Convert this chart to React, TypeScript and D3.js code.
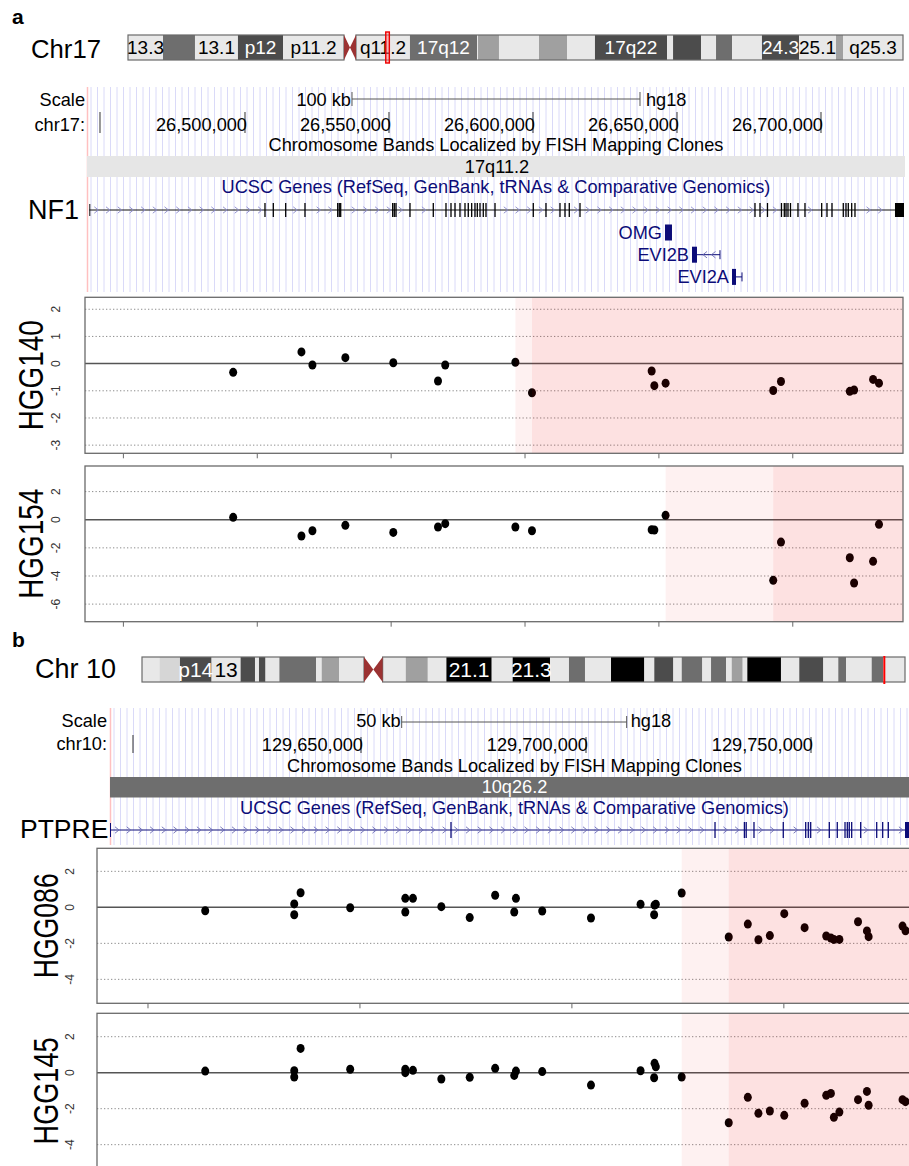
import React from "react";
import * as d3 from "d3";

const FONT = '"Liberation Sans", Arial, Helvetica, sans-serif';
const NAVY = "#0c0c78";
const GUIDE = "#dadaf8";
const BF = 18.2; // browser text size

// ---------------- Ideogram data (Mb) ----------------
const chr17Length = 78.8;
const chr17BandName = ["13.3", "", "13.1", "p12", "p11.2", "q11.2", "17q12", "", "", "", "", "", "17q22", "", "", "", "", "", "24.3", "25.1", "", "q25.3"];
const chr17BandStart = [0, 3.56, 6.81, 11.18, 15.76, 23.18, 28.67, 35.49, 35.59, 37.72, 41.79, 44.64, 47.48, 54.81, 55.42, 58.26, 59.79, 61.42, 64.46, 68.23, 71.99, 72.7];
const chr17BandEnd = [3.56, 6.81, 11.18, 15.76, 21.96, 28.67, 35.49, 35.59, 37.72, 41.79, 44.64, 47.48, 54.81, 55.42, 58.26, 59.79, 61.42, 64.46, 68.23, 71.99, 72.7, 78.8];
const chr17BandStain = ["gneg", "gpos50", "gneg", "gpos75", "gneg", "gneg", "gpos50", "gneg", "gpos25", "gneg", "gpos25", "gneg", "gpos75", "gneg", "gpos75", "gneg", "gpos50", "gneg", "gpos75", "gneg", "gpos25", "gneg"];
const chr17Centromere = [21.96, 23.18];
const chr17Mark = 26.39;

const chr10Length = 135.4;
const chr10BandName = ["", "", "p14", "13", "", "", "", "", "", "", "", "", "", "", "", "21.1", "", "21.3", "", "", "", "", "", "", "", "", "", "", "", "", "", "", "", "", "", "", "", "", ""];
const chr10BandStart = [0, 3.09, 6.74, 12.35, 17.5, 20.05, 20.76, 21.92, 24.38, 30.88, 31.89, 34.96, 42.7, 46.81, 50.72, 54.02, 62.06, 65.78, 72.4, 75.77, 78.61, 83.23, 89.14, 90.91, 94.29, 95.78, 99.43, 100.98, 103.64, 104.65, 106.6, 107.42, 113.39, 116.64, 120.9, 123.56, 124.93, 129.49, 131.55];
const chr10BandEnd = [3.09, 6.74, 12.35, 17.5, 20.05, 20.76, 21.92, 24.38, 30.88, 31.89, 34.96, 39.4, 46.81, 50.72, 54.02, 62.06, 65.78, 72.4, 75.77, 78.61, 83.23, 89.14, 90.91, 94.29, 95.78, 99.43, 100.98, 103.64, 104.65, 106.6, 107.42, 113.39, 116.64, 120.9, 123.56, 124.93, 129.49, 131.55, 135.4];
const chr10BandStain = ["gneg", "gpos10", "gpos75", "gneg", "gpos75", "gneg", "gpos75", "gneg", "gpos50", "gneg", "gpos25", "gneg", "gneg", "gpos25", "gneg", "gpos100", "gneg", "gpos100", "gneg", "gpos50", "gneg", "gpos100", "gneg", "gpos75", "gneg", "gpos50", "gneg", "gpos50", "gneg", "gpos25", "gneg", "gpos100", "gneg", "gpos75", "gneg", "gpos50", "gneg", "gpos50", "gneg"];
const chr10Centromere = [39.4, 42.7];
const chr10Mark = 131.73;

const STAIN: Record<string, string> = {
  gneg: "#e8e8e8",
  gpos10: "#d6d6d6",
  gpos25: "#a0a0a0",
  gpos50: "#6e6e6e",
  gpos75: "#4c4c4c",
  gpos100: "#000000",
};
const ACEN = "#9b3232";

// ---------------- Browser a (kb, chr17) ----------------
const browserADomain = [26445.14, 26729.17];
const browserATicks = [26500, 26550, 26600, 26650, 26700];
const browserATickLabels = ["26,500,000", "26,550,000", "26,600,000", "26,650,000", "26,700,000"];
const browserAStartTick = 26449.65;
const scaleBarA = [26537.15, 100];
const nf1Start = 26445.94;
const nf1Exons = [26506.94, 26509.83, 26514.13, 26520.83, 26532.19, 26532.74, 26533.23, 26551.28, 26551.84, 26552.43, 26557.29, 26565.38, 26569.79, 26571.53, 26572.92, 26574.65, 26576.39, 26577.53, 26578.71, 26579.86, 26580.66, 26581.6, 26582.74, 26583.68, 26586.81, 26600.1, 26604.51, 26609.37, 26611.11, 26612.6, 26616.32, 26677.08, 26678.82, 26681.42, 26686.28, 26687.26, 26687.85, 26688.54, 26689.41, 26692.01, 26694.44, 26700.24, 26702.08, 26703.82, 26707.74, 26708.68, 26709.48, 26710.66, 26711.8];
const nf1LastExon = [26725.69, 26728.82];
const smallGeneNames = ["OMG", "EVI2B", "EVI2A"];
const smallGeneCdsStart = [26645.83, 26655.21, 26669.1];
const smallGeneCdsEnd = [26648.26, 26656.94, 26670.49];
const smallGeneEnd = [26648.26, 26664.93, 26672.57];

// ---------------- Browser b (kb, chr10) ----------------
const browserBDomain = [129594.22, 129774.0];
const browserBTicks = [129650, 129700, 129750];
const browserBTickLabels = ["129,650,000", "129,700,000", "129,750,000"];
const browserBStartTick = 129599.33;
const scaleBarB = [129659.04, 50];
const ptpreStart = 129594.22;
const ptpreExons = [129670.0, 129728.67, 129735.2, 129735.6, 129737.33, 129743.84, 129748.82, 129749.4, 129749.93, 129754.07, 129755.84, 129757.56, 129758.07, 129758.51, 129759.04, 129761.04, 129764.6, 129765.93, 129767.18];
const ptpreLastExon = [129770.89, 129773.5];

// ---------------- Copy-number panels a ----------------
const probesA = [26491.0, 26516.5, 26520.6, 26532.9, 26550.8, 26567.5, 26570.2, 26596.4, 26602.6, 26647.3, 26648.3, 26652.5, 26692.7, 26695.6, 26721.3, 26722.9, 26730.0, 26732.2];
const hgg140 = [-0.32, 0.43, -0.05, 0.22, 0.03, -0.64, -0.05, 0.05, -1.07, -0.27, -0.81, -0.72, -0.99, -0.66, -1.02, -0.97, -0.58, -0.72];
const hgg154 = [0.17, -1.16, -0.78, -0.4, -0.9, -0.52, -0.28, -0.52, -0.78, -0.71, -0.73, 0.31, -4.31, -1.59, -2.7, -4.5, -2.96, -0.33];
const panelAXDomain = [26435.66, 26741.17];
const panelAXTicks = [26450, 26500, 26550, 26600, 26650, 26700];
const hgg140YDomain = [-3.3, 2.44];
const hgg140YTicks = [-3, -2, -1, 0, 1, 2];
const hgg140Breaks = [26596.4, 26602.6];
const hgg154YDomain = [-7.25, 3.82];
const hgg154YTicks = [-6, -4, -2, 0, 2];
const hgg154Breaks = [26652.5, 26692.7];

// ---------------- Copy-number panels b ----------------
const probesB = [129613.5, 129634.5, 129634.5, 129636.0, 129647.7, 129660.7, 129660.7, 129662.5, 129669.2, 129675.9, 129681.9, 129686.8, 129686.4, 129693.0, 129704.5, 129716.2, 129719.5, 129719.8, 129719.4, 129725.9, 129737.0, 129741.5, 129744.0, 129746.7, 129750.1, 129754.9, 129760.0, 129761.1, 129761.8, 129763.1, 129767.5, 129769.6, 129770.0, 129778.0, 129778.7];
const hgg086 = [-0.19, 0.19, -0.41, 0.81, -0.02, 0.5, -0.26, 0.5, 0.04, -0.57, 0.67, 0.5, -0.26, -0.2, -0.59, 0.17, 0.12, 0.17, -0.41, 0.8, -1.65, -0.93, -1.8, -1.57, -0.35, -1.13, -1.59, -1.7, -1.78, -1.78, -0.8, -1.31, -1.63, -1.04, -1.3];
const hgg145 = [0.09, 0.11, -0.24, 1.35, 0.19, 0.19, 0.0, 0.13, -0.35, -0.26, 0.24, 0.09, -0.15, 0.06, -0.69, 0.11, 0.52, 0.33, -0.28, -0.24, -2.78, -1.37, -2.26, -2.13, -2.37, -1.7, -1.26, -1.15, -2.48, -2.19, -1.5, -1.04, -1.81, -1.5, -1.61];
const panelBXDomain = [129587.97, 129780.94];
const panelBXTicks = [129600, 129650, 129700, 129750];
const hgg086YDomain = [-5.33, 3.28];
const hgg145YDomain = [-5.33, 3.3];
const panelBYTicks = [-4, -2, 0, 2];
const panelBBreaks = [129725.9, 129737.0];

// ---------------- Components ----------------
function Ideogram(props: any) {
  const { x0, x1, y0, y1, length, names, starts, ends, stains, cen, mark, fontSize, markBox } = props;
  const x = d3.scaleLinear().domain([0, length]).range([x0, x1]);
  const ym = (y0 + y1) / 2;
  const cm = (x(cen[0]) + x(cen[1])) / 2;
  return (
    <g>
      {starts.map((s: number, i: number) => (
        <rect key={i} x={x(s)} y={y0} width={x(ends[i]) - x(s)} height={y1 - y0} fill={STAIN[stains[i]]} />
      ))}
      <rect x={x(0)} y={y0} width={x(cen[0]) - x(0)} height={y1 - y0} fill="none" stroke="#6a6a6a" strokeWidth={1.2} />
      <rect x={x(cen[1])} y={y0} width={x(length) - x(cen[1])} height={y1 - y0} fill="none" stroke="#6a6a6a" strokeWidth={1.2} />
      <polygon points={`${x(cen[0])},${y0} ${cm},${ym} ${x(cen[0])},${y1}`} fill={ACEN} />
      <polygon points={`${x(cen[1])},${y0} ${cm},${ym} ${x(cen[1])},${y1}`} fill={ACEN} />
      {names.map((n: string, i: number) =>
        n ? (
          <text
            key={"t" + i}
            x={(x(starts[i]) + x(ends[i])) / 2}
            y={ym + fontSize * 0.36}
            textAnchor="middle"
            fontSize={fontSize}
            fill={["gpos50", "gpos75", "gpos100"].includes(stains[i]) ? "#fff" : "#000"}
          >
            {n}
          </text>
        ) : null
      )}
      {markBox ? (
        <rect x={x(mark) - 1.8} y={y0 - 3} width={3.6} height={y1 - y0 + 6} fill="#ff8080" fillOpacity={0.5} stroke="#ee0000" strokeWidth={1.4} />
      ) : (
        <line x1={x(mark)} x2={x(mark)} y1={y0 - 1} y2={y1 + 2} stroke="#ff0000" strokeWidth={2} />
      )}
    </g>
  );
}

function chevron(px: number, py: number, dir: number, color: string, key: string) {
  return (
    <path
      key={key}
      d={`M${px - 2 * dir},${py - 3.2} L${px + 2 * dir},${py} L${px - 2 * dir},${py + 3.2}`}
      fill="none"
      stroke={color}
      strokeWidth={0.9}
    />
  );
}

function Guides({ x0, x1, y0, y1 }: any) {
  const xs = d3.range(x0 + 4, x1, 6.5);
  return (
    <g>
      {xs.map((v: number, i: number) => (
        <line key={i} x1={v} x2={v} y1={y0} y2={y1} stroke={GUIDE} strokeWidth={1} />
      ))}
      <line x1={x0 + 0.5} x2={x0 + 0.5} y1={y0} y2={y1} stroke="#ffc0c0" strokeWidth={1.5} />
    </g>
  );
}

function Gene(props: any) {
  const { x, y, start, exons, lastExon, lineColor, exonColor, chevColor, half, xmax } = props;
  const xs = x(start);
  const xe = Math.min(x(lastExon[0]), xmax);
  const exPx = exons.map((e: number) => x(e));
  const chevs = d3.range(xs + 7, xe - 4, 11.7).filter((p: number) => exPx.every((e: number) => Math.abs(e - p) > 3));
  return (
    <g>
      <line x1={xs} x2={xe} y1={y} y2={y} stroke={lineColor} strokeWidth={1} />
      <line x1={xs + 0.5} x2={xs + 0.5} y1={y - half + 1} y2={y + half - 1} stroke={lineColor} strokeWidth={1} />
      {chevs.map((p: number, i: number) => chevron(p, y, 1, chevColor, "c" + i))}
      {exPx.map((p: number, i: number) => (
        <line key={"e" + i} x1={p} x2={p} y1={y - half} y2={y + half} stroke={exonColor} strokeWidth={1.3} />
      ))}
      <rect x={x(lastExon[0])} y={y - half} width={x(lastExon[1]) - x(lastExon[0])} height={half * 2} fill={exonColor} />
    </g>
  );
}

function Panel(props: any) {
  const { x0, x1, y0, y1, xDomain, yDomain, xTicks, yTicks, pos, vals, breaks, title, tickLabelX, titleX, titleLen } = props;
  const x = d3.scaleLinear().domain(xDomain).range([x0, x1]);
  const y = d3.scaleLinear().domain(yDomain).range([y1, y0]);
  return (
    <g>
      {yTicks
        .filter((t: number) => t !== 0)
        .map((t: number) => (
          <line key={"g" + t} x1={x0} x2={x1} y1={y(t)} y2={y(t)} stroke="#8c8c8c" strokeWidth={1} strokeDasharray="1.3,2.2" />
        ))}
      <line x1={x0} x2={x1} y1={y(0)} y2={y(0)} stroke="#555" strokeWidth={1.5} />
      {pos.map((p: number, i: number) => (
        <ellipse key={"p" + i} cx={x(p)} cy={y(vals[i])} rx={4} ry={4.5} fill="#000" />
      ))}
      <rect x={x(breaks[0])} y={y0} width={x1 - x(breaks[0])} height={y1 - y0} fill="rgb(235,0,0)" fillOpacity={0.055} />
      <rect x={x(breaks[1])} y={y0} width={x1 - x(breaks[1])} height={y1 - y0} fill="rgb(235,0,0)" fillOpacity={0.062} />
      <rect x={x0} y={y0} width={x1 - x0} height={y1 - y0} fill="none" stroke="#6a6a6a" strokeWidth={1.3} />
      {xTicks.map((t: number) => (
        <line key={"x" + t} x1={x(t)} x2={x(t)} y1={y1} y2={y1 + 5} stroke="#6a6a6a" strokeWidth={1} />
      ))}
      {yTicks.map((t: number) => (
        <text
          key={"l" + t}
          transform={`translate(${tickLabelX},${y(t)}) rotate(-90)`}
          textAnchor="middle"
          fontSize={12}
          fill="#333"
        >
          {String(t)}
        </text>
      ))}
      <text
        transform={`translate(${titleX},${(y0 + y1) / 2}) rotate(-90)`}
        textAnchor="middle"
        fontSize={35}
        textLength={titleLen}
        lengthAdjust="spacingAndGlyphs"
        fill="#000"
      >
        {title}
      </text>
    </g>
  );
}

export default function App() {
  const bxA = d3.scaleLinear().domain(browserADomain).range([87, 905]);
  const bxB = d3.scaleLinear().domain(browserBDomain).range([110, 919]);

  return (
    <svg
      width={909}
      height={1166}
      viewBox="0 0 909 1166"
      style={{ position: "absolute", left: 0, top: 0, display: "block" }}
      fontFamily={FONT}
    >
      <rect x={0} y={0} width={909} height={1166} fill="#fff" />

      {/* ===================== Section a ===================== */}
      <text x={12} y={24} fontSize={21} fontWeight="bold">a</text>
      <text x={31} y={58} fontSize={25.7}>Chr17</text>
      <Ideogram
        x0={128} x1={903} y0={35} y1={60}
        length={chr17Length}
        names={chr17BandName} starts={chr17BandStart} ends={chr17BandEnd} stains={chr17BandStain}
        cen={chr17Centromere} mark={chr17Mark} fontSize={19} markBox={true}
      />

      <Guides x0={87} x1={905} y0={87} y1={292} />
      <text x={85} y={106} fontSize={BF} textAnchor="end">Scale</text>
      <text x={85} y={131} fontSize={BF} textAnchor="end">chr17:</text>
      <line x1={bxA(scaleBarA[0])} x2={bxA(scaleBarA[0] + scaleBarA[1])} y1={99} y2={99} stroke="#555" strokeWidth={1} />
      <line x1={bxA(scaleBarA[0])} x2={bxA(scaleBarA[0])} y1={92} y2={106} stroke="#555" strokeWidth={1} />
      <line x1={bxA(scaleBarA[0] + scaleBarA[1])} x2={bxA(scaleBarA[0] + scaleBarA[1])} y1={92} y2={106} stroke="#555" strokeWidth={1} />
      <text x={bxA(scaleBarA[0]) - 1} y={106} fontSize={BF} textAnchor="end">100 kb</text>
      <text x={bxA(scaleBarA[0] + scaleBarA[1]) + 6} y={106} fontSize={BF}>hg18</text>
      <line x1={bxA(browserAStartTick)} x2={bxA(browserAStartTick)} y1={112} y2={133} stroke="#333" strokeWidth={1} />
      {browserATicks.map((t, i) => (
        <g key={"bta" + i}>
          <line x1={bxA(t)} x2={bxA(t)} y1={112} y2={133} stroke="#333" strokeWidth={1} />
          <text x={bxA(t) + 2} y={131} fontSize={BF} textAnchor="end">{browserATickLabels[i]}</text>
        </g>
      ))}
      <text x={496} y={151} fontSize={BF} textAnchor="middle">Chromosome Bands Localized by FISH Mapping Clones</text>
      <rect x={87} y={156} width={818} height={21} fill="#e6e6e6" />
      <text x={497} y={172.5} fontSize={BF} textAnchor="middle">17q11.2</text>
      <text x={496} y={193} fontSize={BF} textAnchor="middle" fill={NAVY}>UCSC Genes (RefSeq, GenBank, tRNAs &amp; Comparative Genomics)</text>
      <text x={28} y={219} fontSize={27}>NF1</text>
      <Gene
        x={bxA} y={210} start={nf1Start} exons={nf1Exons} lastExon={nf1LastExon}
        lineColor="#111" exonColor="#000" chevColor="#8888cc" half={7} xmax={905}
      />
      {smallGeneNames.map((n, i) => {
        const cy = 232.5 + i * 22.2;
        const bs = bxA(smallGeneCdsStart[i]);
        const be = bxA(smallGeneCdsEnd[i]);
        const ge = bxA(smallGeneEnd[i]);
        const chevs = ge - be > 12 ? d3.range(be + 8, ge - 4, 8.5) : [];
        return (
          <g key={"sg" + i}>
            {ge > be + 1 && <line x1={be} x2={ge} y1={cy} y2={cy} stroke={NAVY} strokeWidth={1} />}
            {ge > be + 1 && <line x1={ge} x2={ge} y1={cy - 4.5} y2={cy + 4.5} stroke={NAVY} strokeWidth={1} />}
            {chevs.map((p: number, j: number) => chevron(p, cy, -1, "#6a6ab4", "sc" + i + "_" + j))}
            <rect x={bs} y={cy - 8} width={Math.max(be - bs, 3)} height={16} fill={NAVY} />
            <text x={bs - 3} y={cy + 6.5} fontSize={BF} textAnchor="end" fill={NAVY}>{n}</text>
          </g>
        );
      })}

      <Panel
        x0={85} x1={903} y0={297.3} y1={453.3}
        xDomain={panelAXDomain} yDomain={hgg140YDomain} xTicks={panelAXTicks} yTicks={hgg140YTicks}
        pos={probesA} vals={hgg140} breaks={hgg140Breaks} title="HGG140"
        tickLabelX={60} titleX={43} titleLen={110}
      />
      <Panel
        x0={85} x1={903} y0={466} y1={621.7}
        xDomain={panelAXDomain} yDomain={hgg154YDomain} xTicks={panelAXTicks} yTicks={hgg154YTicks}
        pos={probesA} vals={hgg154} breaks={hgg154Breaks} title="HGG154"
        tickLabelX={60} titleX={43} titleLen={110}
      />

      {/* ===================== Section b ===================== */}
      <text x={12} y={647} fontSize={21} fontWeight="bold">b</text>
      <text x={35} y={678} fontSize={27}>Chr 10</text>
      <Ideogram
        x0={142} x1={905} y0={657} y1={682}
        length={chr10Length}
        names={chr10BandName} starts={chr10BandStart} ends={chr10BandEnd} stains={chr10BandStain}
        cen={chr10Centromere} mark={chr10Mark} fontSize={21} markBox={false}
      />

      <Guides x0={110} x1={909} y0={708} y1={845} />
      <text x={107} y={727} fontSize={BF} textAnchor="end">Scale</text>
      <text x={107} y={750} fontSize={BF} textAnchor="end">chr10:</text>
      <line x1={bxB(scaleBarB[0])} x2={bxB(scaleBarB[0] + scaleBarB[1])} y1={722} y2={722} stroke="#555" strokeWidth={1} />
      <line x1={bxB(scaleBarB[0])} x2={bxB(scaleBarB[0])} y1={716} y2={728} stroke="#555" strokeWidth={1} />
      <line x1={bxB(scaleBarB[0] + scaleBarB[1])} x2={bxB(scaleBarB[0] + scaleBarB[1])} y1={716} y2={728} stroke="#555" strokeWidth={1} />
      <text x={bxB(scaleBarB[0]) - 1} y={727} fontSize={BF} textAnchor="end">50 kb</text>
      <text x={bxB(scaleBarB[0] + scaleBarB[1]) + 4} y={727} fontSize={BF}>hg18</text>
      <line x1={bxB(browserBStartTick)} x2={bxB(browserBStartTick)} y1={735} y2={753} stroke="#333" strokeWidth={1} />
      {browserBTicks.map((t, i) => (
        <g key={"btb" + i}>
          <line x1={bxB(t)} x2={bxB(t)} y1={737} y2={753} stroke="#333" strokeWidth={1} />
          <text x={bxB(t) + 2} y={751} fontSize={BF} textAnchor="end">{browserBTickLabels[i]}</text>
        </g>
      ))}
      <text x={514.5} y={772} fontSize={BF} textAnchor="middle">Chromosome Bands Localized by FISH Mapping Clones</text>
      <rect x={110} y={777} width={809} height={20.5} fill="#6e6e6e" />
      <text x={514.5} y={793} fontSize={BF} textAnchor="middle" fill="#fff">10q26.2</text>
      <text x={514.5} y={814} fontSize={BF} textAnchor="middle" fill={NAVY}>UCSC Genes (RefSeq, GenBank, tRNAs &amp; Comparative Genomics)</text>
      <text x={20} y={838} fontSize={26.5}>PTPRE</text>
      <Gene
        x={bxB} y={830} start={ptpreStart} exons={ptpreExons} lastExon={ptpreLastExon}
        lineColor={NAVY} exonColor={NAVY} chevColor="#6a6ab4" half={8} xmax={909}
      />

      <Panel
        x0={97} x1={915} y0={848.3} y1={1003.3}
        xDomain={panelBXDomain} yDomain={hgg086YDomain} xTicks={panelBXTicks} yTicks={panelBYTicks}
        pos={probesB} vals={hgg086} breaks={panelBBreaks} title="HGG086"
        tickLabelX={74} titleX={58} titleLen={105}
      />
      <Panel
        x0={97} x1={915} y0={1013.3} y1={1168.6}
        xDomain={panelBXDomain} yDomain={hgg145YDomain} xTicks={panelBXTicks} yTicks={panelBYTicks}
        pos={probesB} vals={hgg145} breaks={panelBBreaks} title="HGG145"
        tickLabelX={74} titleX={58} titleLen={107}
      />
    </svg>
  );
}
